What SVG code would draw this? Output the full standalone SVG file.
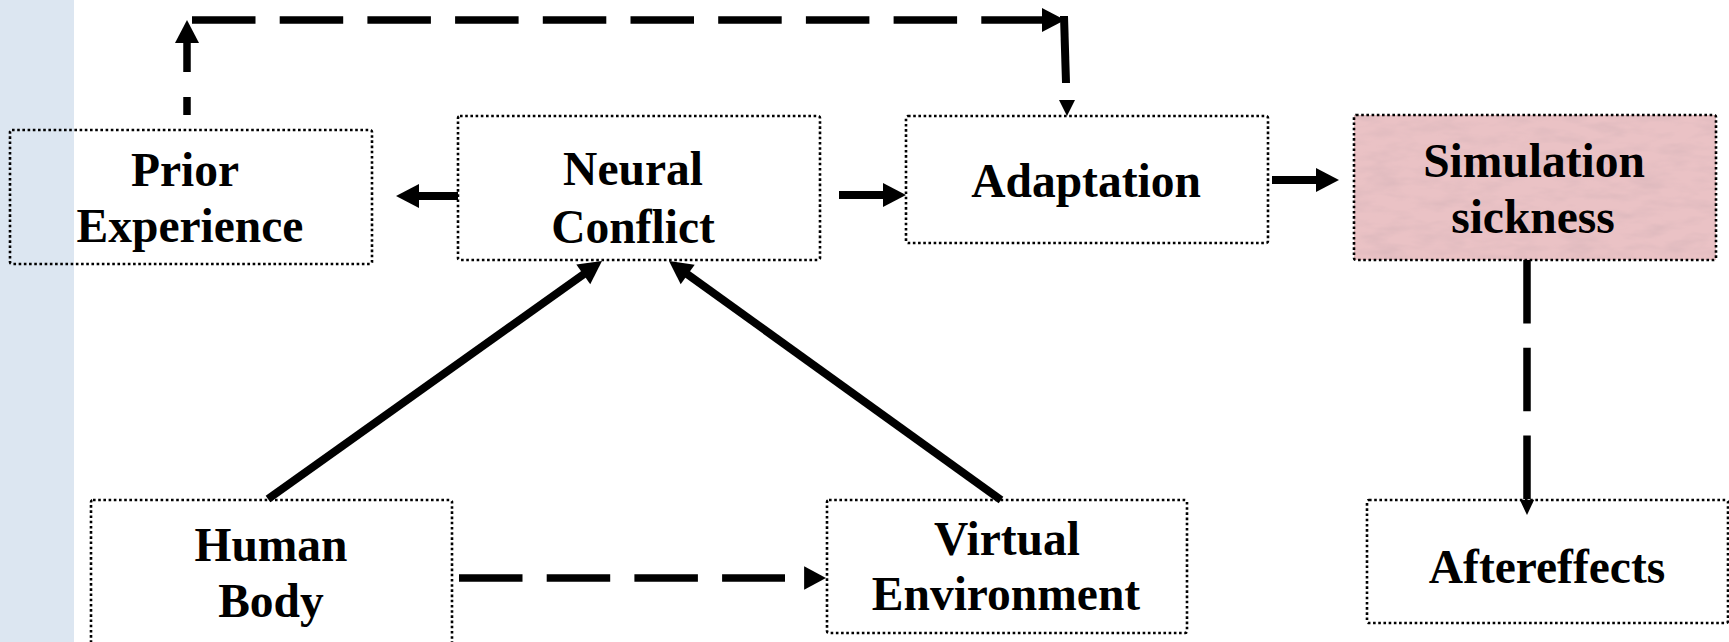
<svg xmlns="http://www.w3.org/2000/svg" xmlns:xlink="http://www.w3.org/1999/xlink" width="1729" height="642" viewBox="0 0 1729 642">
  <style>
    .box { fill: none; stroke: #000; stroke-width: 2.6; stroke-dasharray: 2.6 2.6; }
    .lbl { font-family: "Liberation Serif", "Times New Roman", serif; font-weight: bold; font-size: 47.5px; fill: #000; text-anchor: middle; }
    .solid { stroke: #000; stroke-width: 8; fill: none; }
    .dash { stroke: #000; stroke-width: 7.5; fill: none; stroke-dasharray: 63.5 24.2; }
    .dashplain { stroke: #000; stroke-width: 7.5; fill: none; }
    .head { fill: #000; }
  </style>
  <defs>
    <!-- arrowheads point along +x with the tip at the origin -->
    <path id="ah" d="M0,0 L-23,-12 L-23,12 Z"/>
    <path id="ahs" d="M0,0 L-16,-8 L-16,8 Z"/>
    <filter id="mottle" x="0" y="0" width="100%" height="100%">
      <feTurbulence type="fractalNoise" baseFrequency="0.03 0.09" numOctaves="3" seed="7" result="n"/>
      <feColorMatrix in="n" type="matrix" values="0 0 0 0 0.66  0 0 0 0 0.45  0 0 0 0 0.48  1.1 0 0 0 -0.45" result="tint"/>
      <feComposite in="tint" in2="SourceGraphic" operator="in"/>
    </filter>
  </defs>

  <!-- page background and side band -->
  <rect x="0" y="0" width="1729" height="642" fill="#ffffff"/>
  <rect x="0" y="0" width="74" height="642" fill="#dce6f1"/>

  <g id="connectors">
    <!-- Neural Conflict -> Prior Experience -->
    <line class="solid" x1="458" y1="196" x2="416" y2="196"/>
    <use xlink:href="#ah" class="head" transform="translate(396,196) rotate(180)"/>
    <!-- Neural Conflict -> Adaptation -->
    <line class="solid" x1="839" y1="195" x2="886" y2="195"/>
    <use xlink:href="#ah" class="head" transform="translate(906,195)"/>
    <!-- Adaptation -> Simulation sickness -->
    <line class="solid" x1="1272" y1="180" x2="1319" y2="180"/>
    <use xlink:href="#ah" class="head" transform="translate(1339,180)"/>
    <!-- Human Body -> Neural Conflict -->
    <line class="solid" x1="268" y1="499" x2="584" y2="274"/>
    <use xlink:href="#ah" class="head" transform="translate(602,261) rotate(-35.5)"/>
    <!-- Virtual Environment -> Neural Conflict -->
    <line class="solid" x1="1001" y1="500" x2="687" y2="274"/>
    <use xlink:href="#ah" class="head" transform="translate(669,261) rotate(-144.3)"/>
    <!-- Human Body -> Virtual Environment (dashed) -->
    <line class="dash" stroke-dasharray="64 25" x1="459" y1="578" x2="785" y2="578"/>
    <use xlink:href="#ah" class="head" transform="translate(826,578) scale(0.95,0.98)"/>
    <!-- Simulation sickness -> Aftereffects (dashed) -->
    <line class="dash" stroke-dasharray="63 25" x1="1527" y1="260" x2="1527" y2="500"/>
    <use xlink:href="#ahs" class="head" transform="translate(1527,515) rotate(90) scale(0.95,0.9)"/>
    <!-- Prior Experience -> Adaptation (dashed loop over the top) -->
    <line class="dashplain" x1="187" y1="115" x2="187" y2="97"/>
    <line class="dashplain" x1="187" y1="72" x2="187" y2="42"/>
    <use xlink:href="#ah" class="head" transform="translate(187,20) rotate(-90)"/>
    <line class="dash" x1="192" y1="20" x2="1045" y2="20"/>
    <use xlink:href="#ah" class="head" transform="translate(1065,20)"/>
    <line class="solid" x1="1064" y1="16" x2="1066" y2="83"/>
    <use xlink:href="#ahs" class="head" transform="translate(1067,116) rotate(90)"/>
  </g>

  <g id="prior-experience">
    <rect class="box" x="10" y="130" width="362" height="134" rx="2"/>
    <text class="lbl" x="185" y="186">Prior</text>
    <text class="lbl" x="190" y="242">Experience</text>
  </g>

  <g id="neural-conflict">
    <rect class="box" x="458" y="116" width="362" height="144" rx="2"/>
    <text class="lbl" x="633" y="185">Neural</text>
    <text class="lbl" x="633" y="243">Conflict</text>
  </g>

  <g id="adaptation">
    <rect class="box" x="906" y="116" width="362" height="127" rx="2"/>
    <text class="lbl" x="1086" y="197">Adaptation</text>
  </g>

  <g id="simulation-sickness">
    <rect x="1354" y="115" width="362" height="145" fill="#eac2c5"/>
    <rect x="1354" y="115" width="362" height="145" fill="#eac2c5" filter="url(#mottle)"/>
    <rect class="box" x="1354" y="115" width="362" height="145" rx="2"/>
    <text class="lbl" x="1534" y="177">Simulation</text>
    <text class="lbl" x="1533" y="233">sickness</text>
  </g>

  <g id="aftereffects">
    <rect class="box" x="1367" y="500" width="361" height="123" rx="2"/>
    <text class="lbl" x="1547" y="583">Aftereffects</text>
  </g>

  <g id="human-body">
    <rect class="box" x="91" y="500" width="361" height="150" rx="2"/>
    <text class="lbl" x="271" y="561">Human</text>
    <text class="lbl" x="271" y="617">Body</text>
  </g>

  <g id="virtual-environment">
    <rect class="box" x="827" y="500" width="360" height="133" rx="2"/>
    <text class="lbl" x="1007" y="555">Virtual</text>
    <text class="lbl" x="1006" y="610">Environment</text>
  </g>
</svg>
